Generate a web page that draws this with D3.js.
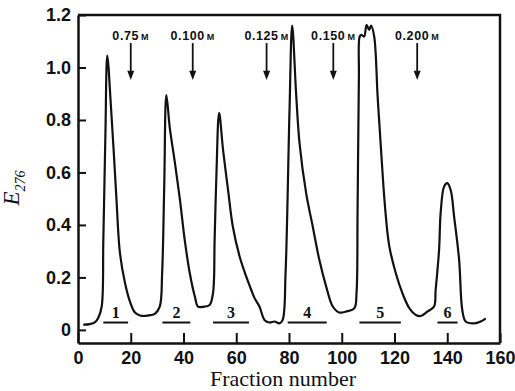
<!DOCTYPE html>
<html>
<head>
<meta charset="utf-8">
<script src="https://cdn.jsdelivr.net/npm/d3@7"></script>
<style>
  body { margin: 0; background: #fff; }
  svg text { fill: #111; }
</style>
</head>
<body>
<div id="chart"></div>
<script>
// elution profile
var fraction = [2, 4.5, 6.5, 7.7, 9, 9.6, 10.4, 11.1, 12.5, 13.6, 14.6, 15.9, 17.8, 19.7, 21.6, 23.5, 25.3, 27.5, 29.1, 31,
  31.9, 32.7, 33.5, 34.8, 36.7, 38.6, 40.5, 42.4, 44.3, 45.5, 47.5, 49.9, 51.2, 51.8, 52.5, 53.5,
  55, 56.9, 58.7, 61.3, 63.8, 65.7, 66.9, 68.8, 70.7, 72.6, 74.5, 76.4, 77.6, 78.7, 80.2, 81.2,
  82.7, 84, 86.5, 89, 91.5, 94.1, 96.6, 99.1, 101.6, 104.8, 105.6, 106, 106.5, 106.8, 107.4, 108.5,
  109.4, 110.4, 111.1, 112.3, 113.6, 115, 116.4, 118, 120.5, 123, 125.6, 128.1, 130, 132.5, 135,
  135.6, 136.9, 137.5, 138.8, 140, 141.3, 142.6, 144.5, 145.7, 147, 150.2, 152.7, 154.6];
var absorbance = [0.02, 0.022, 0.03, 0.046, 0.09, 0.34, 0.75, 1.045, 0.85, 0.67, 0.495, 0.293, 0.18, 0.108, 0.066, 0.055, 0.053, 0.056, 0.061, 0.089,
  0.217, 0.55, 0.895, 0.77, 0.64, 0.5, 0.34, 0.215, 0.127, 0.089, 0.088, 0.095, 0.141, 0.343, 0.598, 0.827,
  0.686, 0.533, 0.394, 0.279, 0.203, 0.152, 0.122, 0.089, 0.038, 0.028, 0.032, 0.025, 0.038, 0.217, 0.838, 1.16,
  0.9, 0.711, 0.521, 0.394, 0.267, 0.165, 0.089, 0.066, 0.07, 0.083, 0.14, 0.457, 0.965, 1.118, 1.124, 1.118,
  1.162, 1.143, 1.16, 1.118, 0.89, 0.67, 0.47, 0.32, 0.216, 0.14, 0.083, 0.057, 0.053, 0.07, 0.089,
  0.152, 0.305, 0.446, 0.546, 0.559, 0.533, 0.432, 0.267, 0.076, 0.032, 0.025, 0.032, 0.044];

// pooled fractions
var poolNames = ["1", "2", "3", "4", "5", "6"];
var poolStart = [9.6, 32, 51.2, 79.5, 106.7, 136.3];
var poolEnd = [19, 42.6, 64.8, 94.3, 122.4, 143.9];
var poolLevel = 0.028;

// salt steps
var stepFraction = [20, 43.5, 71.5, 96.8, 128.6];
var stepConc = ["0.75", "0.100", "0.125", "0.150", "0.200"];

var xTicks = [0, 20, 40, 60, 80, 100, 120, 140, 160];
var yTicks = [0, 0.2, 0.4, 0.6, 0.8, 1.0, 1.2];

var W = 515, H = 391;
var svg = d3.select("#chart").append("svg")
    .attr("width", W)
    .attr("height", H);

var x = d3.scaleLinear().domain([0, 160]).range([78, 500]);
var y = d3.scaleLinear().domain([-0.05, 1.2]).range([343, 15]);

var tickFont = "'Liberation Sans', Arial, sans-serif";

// axes, ticks pointing inward
var xAxis = svg.append("g")
    .attr("transform", "translate(0," + y(-0.05) + ")")
    .call(d3.axisBottom(x).tickValues(xTicks).tickSizeInner(-10).tickSizeOuter(0).tickPadding(8)
      .tickFormat(d3.format("d")));
var yAxis = svg.append("g")
    .attr("transform", "translate(" + x(0) + ",0)")
    .call(d3.axisLeft(y).tickValues(yTicks).tickSizeInner(-8).tickSizeOuter(0).tickPadding(7)
      .tickFormat(function(d) { return d === 0 ? "0" : d.toFixed(1); }));

[xAxis, yAxis].forEach(function(g) {
  g.select(".domain").attr("stroke", "#111").attr("stroke-width", 2.5);
  g.selectAll(".tick line").attr("stroke", "#111").attr("stroke-width", 2);
  g.selectAll(".tick text")
    .style("font-family", tickFont)
    .style("font-size", "18px")
    .style("font-weight", "bold")
    .attr("fill", "#111");
});

// top and right border
svg.append("path")
    .attr("d", "M" + x(0) + "," + y(1.2) + "H" + x(160) + "V" + y(-0.05))
    .attr("fill", "none")
    .attr("stroke", "#111")
    .attr("stroke-width", 2.5);

// elution curve
var pts = fraction.map(function(f, i) { return [f, absorbance[i]]; });
var line = d3.line()
    .x(function(d) { return x(d[0]); })
    .y(function(d) { return y(d[1]); })
    .curve(d3.curveCatmullRom.alpha(0.5));

svg.append("path")
    .datum(pts)
    .attr("d", line)
    .attr("fill", "none")
    .attr("stroke", "#111")
    .attr("stroke-width", 2.2)
    .attr("stroke-linejoin", "round");

// pool bars
var pools = svg.append("g");
poolNames.forEach(function(name, i) {
  pools.append("line")
    .attr("x1", x(poolStart[i])).attr("x2", x(poolEnd[i]))
    .attr("y1", y(poolLevel)).attr("y2", y(poolLevel))
    .attr("stroke", "#111").attr("stroke-width", 2);
  pools.append("text")
    .attr("x", x((poolStart[i] + poolEnd[i]) / 2))
    .attr("y", y(0.045))
    .attr("text-anchor", "middle")
    .style("font-family", "'Liberation Serif', 'Times New Roman', serif")
    .style("font-size", "16px")
    .style("font-weight", "bold")
    .text(name);
});

// salt step arrows
var steps = svg.append("g");
stepFraction.forEach(function(f, i) {
  var cx = x(f);
  steps.append("line")
    .attr("x1", cx).attr("x2", cx)
    .attr("y1", y(1.093)).attr("y2", y(0.975))
    .attr("stroke", "#111").attr("stroke-width", 1.8);
  steps.append("path")
    .attr("d", "M" + (cx - 3.5) + "," + y(0.988) + "L" + (cx + 3.5) + "," + y(0.988) + "L" + cx + "," + y(0.952) + "Z")
    .attr("fill", "#111");
  var t = steps.append("text")
    .attr("x", cx)
    .attr("y", y(1.105))
    .attr("text-anchor", "middle")
    .style("font-family", tickFont)
    .style("font-weight", "bold")
    .style("font-size", "12.5px")
    .style("letter-spacing", "0.6px");
  t.append("tspan").text(stepConc[i]);
  t.append("tspan").attr("dx", 2).style("font-size", "9px").text("M");
});

// axis titles
svg.append("text")
    .attr("x", (x(0) + x(160)) / 2 - 6)
    .attr("y", 386)
    .attr("text-anchor", "middle")
    .style("font-family", "'Liberation Serif', 'Times New Roman', serif")
    .style("font-size", "22px")
    .text("Fraction number");

var yt = svg.append("text")
    .attr("transform", "translate(19,188) rotate(-90)")
    .attr("text-anchor", "middle")
    .style("font-family", "'Liberation Serif', 'Times New Roman', serif");
yt.append("tspan").style("font-size", "23px").style("font-style", "italic").text("E");
yt.append("tspan").attr("dy", 6).style("font-size", "14px").style("font-style", "italic").text("276");
</script>
</body>
</html>
